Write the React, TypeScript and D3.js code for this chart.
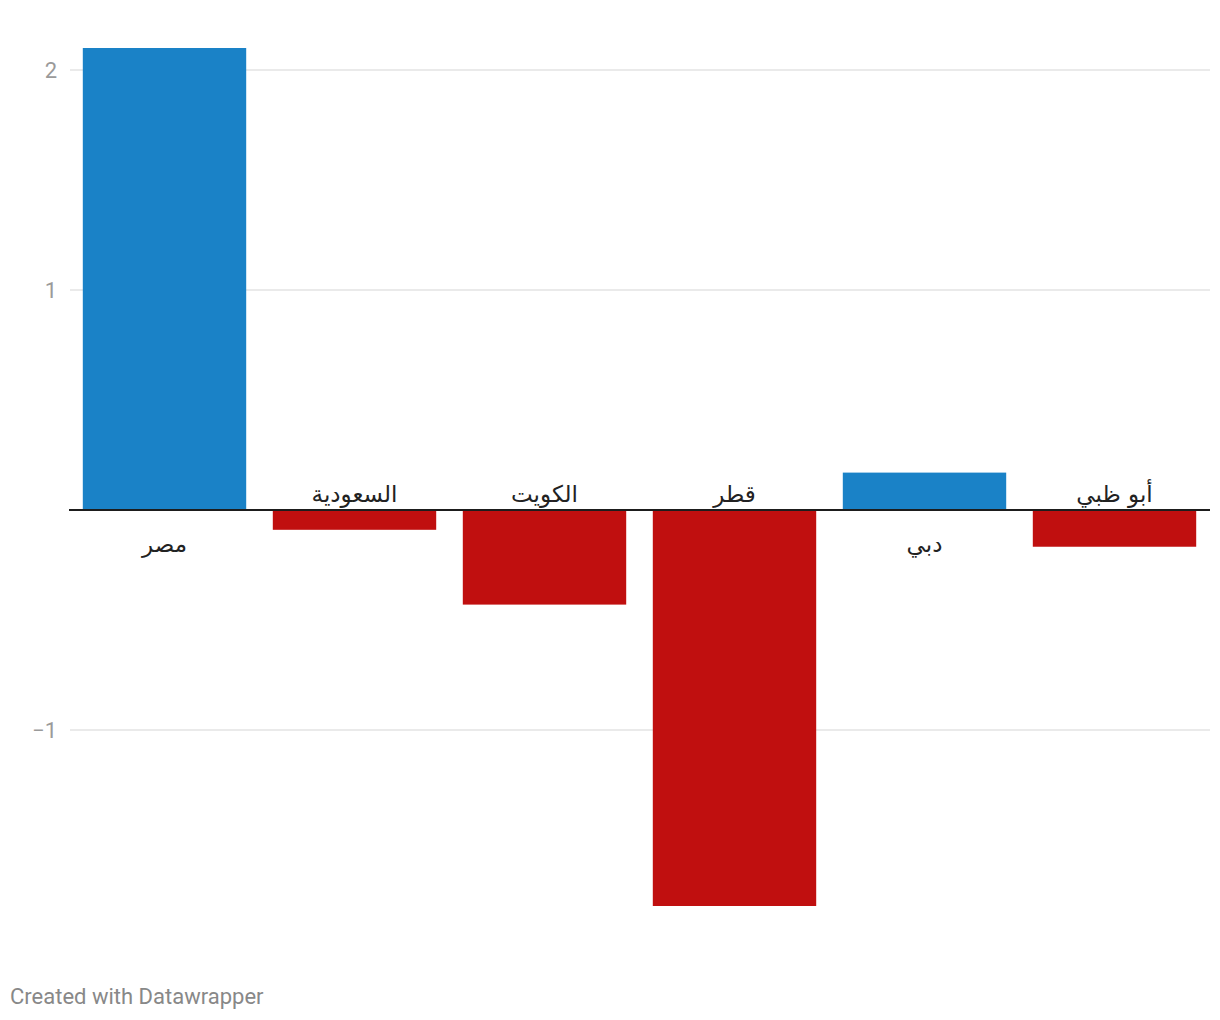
import React from "react";
import * as d3 from "d3";

const categories = ["مصر", "السعودية", "الكويت", "قطر", "دبي", "أبو ظبي"];
const values = [2.1, -0.09, -0.43, -1.8, 0.17, -0.167];
const yTicks = [2, 1, -1];

const W = 1220;
const H = 1020;

export default function App() {
  const x = d3
    .scaleBand<string>()
    .domain(categories)
    .range([69.5, 1209.5])
    .paddingInner(0.14)
    .paddingOuter(0.07);
  const y = d3.scaleLinear().domain([0, 1]).range([510, 290]);
  const y0 = y(0);
  const fmt = (v: number) => (v < 0 ? "\u2212" + Math.abs(v) : String(v));

  return (
    <svg
      width={W}
      height={H}
      style={{ position: "absolute", left: 0, top: 0, background: "#fff" }}
      fontFamily="Roboto, 'DejaVu Sans', sans-serif"
    >
      {yTicks.map((t) => (
        <g key={t}>
          <line x1={70} x2={1210} y1={y(t)} y2={y(t)} stroke="#e3e3e3" strokeWidth={1.5} />
          <text x={57} y={y(t)} dy="0.35em" textAnchor="end" fontSize={22} fill="#9a9a9a">
            {fmt(t)}
          </text>
        </g>
      ))}
      {categories.map((c, i) => {
        const v = values[i];
        const top = Math.min(y(v), y0);
        const h = Math.abs(y(v) - y0);
        return (
          <rect
            key={c}
            x={x(c)}
            y={top}
            width={x.bandwidth()}
            height={h}
            fill={v >= 0 ? "#1a82c7" : "#c00f0f"}
          />
        );
      })}
      <line x1={69} x2={1210} y1={y0} y2={y0} stroke="#1d1d1d" strokeWidth={2} />
      {categories.map((c, i) => {
        const v = values[i];
        const cx = (x(c) as number) + x.bandwidth() / 2;
        return (
          <text
            key={c}
            x={cx}
            y={v >= 0 ? y0 + 42 : y0 - 8}
            textAnchor="middle"
            fontSize={23}
            fill="#222"
            fontFamily="'DejaVu Sans', sans-serif"
            direction="rtl"
          >
            {c}
          </text>
        );
      })}
      <text x={10} y={1004} fontSize={22} fill="#888">
        Created with Datawrapper
      </text>
    </svg>
  );
}
